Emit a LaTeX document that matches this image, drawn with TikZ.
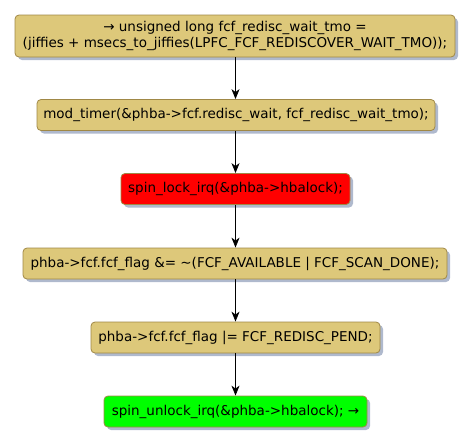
\documentclass[tikz,border=0pt]{standalone}
\usepackage{fontspec}
\setmainfont{DejaVu Sans}
\usetikzlibrary{arrows.meta,shadows}
\definecolor{boxfill}{RGB}{221,200,122}
\definecolor{boxline}{RGB}{160,136,70}
\definecolor{shade}{RGB}{175,185,205}
\definecolor{redfill}{RGB}{255,0,0}
\definecolor{greenfill}{RGB}{0,255,0}
\tikzset{
  act/.style={draw=boxline, line width=0.8pt, fill=boxfill, rounded corners=4pt,
    inner sep=0pt, font=\fontsize{13.5}{16}\selectfont, align=center,
    drop shadow={shadow xshift=3pt, shadow yshift=-3pt, fill=shade, opacity=1}},
  flow/.style={-{Stealth[length=10pt,width=8pt,inset=3pt]}, line width=0.8pt, black}
}
\begin{document}
\begin{tikzpicture}[x=1pt,y=-1pt]
\useasboundingbox (0,0) rectangle (474,445);
\node[act, minimum width=440pt, minimum height=42pt] (n1) at (235,36)
  {→ unsigned long fcf\_redisc\_wait\_tmo =\\(jiffies + msecs\_to\_jiffies(LPFC\_FCF\_REDISCOVER\_WAIT\_TMO));};
\node[act, minimum width=398pt, minimum height=31pt] (n2) at (236,115)
  {mod\_timer(\&phba->fcf.redisc\_wait, fcf\_redisc\_wait\_tmo);};
\node[act, fill=redfill, minimum width=229pt, minimum height=31pt] (n3) at (235.5,189)
  {spin\_lock\_irq(\&phba->hbalock);};
\node[act, minimum width=424pt, minimum height=31pt] (n4) at (235,263.5)
  {phba->fcf.fcf\_flag \&= \textasciitilde(FCF\_AVAILABLE | FCF\_SCAN\_DONE);};
\node[act, minimum width=289pt, minimum height=31pt] (n5) at (235.5,337.5)
  {phba->fcf.fcf\_flag |= FCF\_REDISC\_PEND;};
\node[act, fill=greenfill, minimum width=263pt, minimum height=31pt] (n6) at (235.5,411.5)
  {spin\_unlock\_irq(\&phba->hbalock); →};
\draw[flow] (n1.south -| 235.5,0) -- (n2.north -| 235.5,0);
\draw[flow] (n2.south -| 235.5,0) -- (n3.north -| 235.5,0);
\draw[flow] (n3.south -| 235.5,0) -- (n4.north -| 235.5,0);
\draw[flow] (n4.south -| 235.5,0) -- (n5.north -| 235.5,0);
\draw[flow] (n5.south -| 235.5,0) -- (n6.north -| 235.5,0);
\end{tikzpicture}
\end{document}
